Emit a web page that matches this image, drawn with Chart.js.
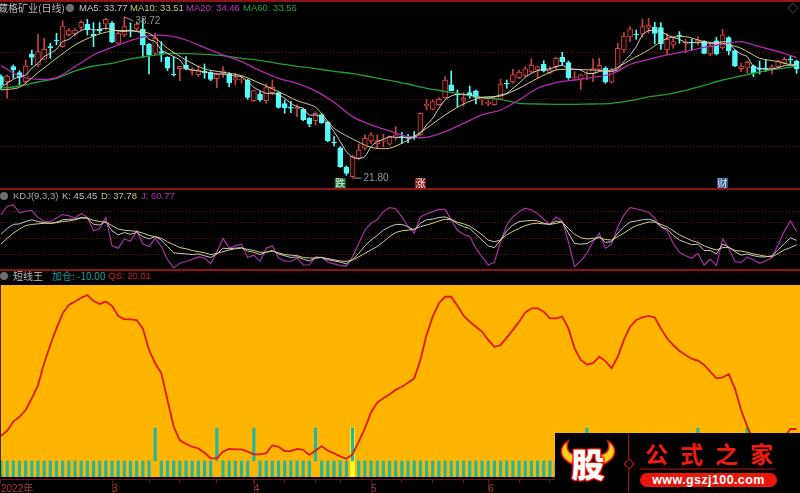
<!DOCTYPE html>
<html>
<head>
<meta charset="utf-8">
<title>藏格矿业(日线)</title>
<script src="https://cdn.jsdelivr.net/npm/chart.js@4/dist/chart.umd.min.js"></script>
<style>
html, body { margin: 0; padding: 0; background: #000; width: 800px; height: 493px; overflow: hidden; }
body { position: relative; font-family: "Liberation Sans", "Noto Sans CJK SC", sans-serif; font-size: 9.5px; }
canvas { position: absolute; left: 0; }
.hdr { position: absolute; white-space: nowrap; line-height: 12px; }
.cn { font-family: "Noto Sans CJK SC", sans-serif; font-size: 10px; }
.sep { position: absolute; left: 0; width: 800px; height: 1.5px; background: #8c1414; }
.dot { position: absolute; width: 8px; height: 8px; border-radius: 50%; background: #6e6e6e; }
#logo { position: absolute; left: 555px; top: 433px; width: 245px; height: 60px; background: #000; overflow: hidden; }
#logo div, #logo svg { position: absolute; }
</style>
</head>
<body>
<canvas id="priceChart" width="800" height="186" style="top:2px"></canvas>
<canvas id="kdjChart" width="800" height="78" style="top:190px"></canvas>
<canvas id="qsChart" width="800" height="208" style="top:285px"></canvas>

<div class="sep" style="top:0"></div>
<div class="sep" style="top:188px"></div>
<div class="sep" style="top:269px"></div>
<div style="position:absolute;left:0;top:477px;width:800px;height:2px;background:#000"></div>
<div class="sep" style="top:479px;height:1px;background:#7a1212"></div>
<div style="position:absolute;left:0;top:285px;width:1px;height:192px;background:#3a2a10"></div>

<div class="hdr cn" style="left:-2px;top:2px;color:#b8b8b8">藏格矿业(日线)</div>
<div class="dot" style="left:66px;top:4px"></div>
<div class="hdr" style="left:79px;top:2px;color:#c8c8c8">MA5: 33.77</div>
<div class="hdr" style="left:130px;top:2px;color:#c8c878">MA10: 33.51</div>
<div class="hdr" style="left:186px;top:2px;color:#c832c8">MA20: 34.46</div>
<div class="hdr" style="left:243px;top:2px;color:#22a83c">MA60: 33.56</div>
<div style="position:absolute;left:789px;top:4px;width:6px;height:6px;border:1px solid #333;transform:rotate(45deg)"></div>

<div class="dot" style="left:0;top:192px"></div>
<div class="hdr" style="left:13px;top:190px;color:#a8a8a8">KDJ(9,3,3)</div>
<div class="hdr" style="left:62px;top:190px;color:#c0c0c0">K: 45.45</div>
<div class="hdr" style="left:101px;top:190px;color:#c8c878">D: 37.78</div>
<div class="hdr" style="left:141px;top:190px;color:#b030b0">J: 60.77</div>

<div class="dot" style="left:0;top:272px"></div>
<div class="hdr cn" style="left:13px;top:270px;color:#b8b8b8">短线王</div>
<div class="hdr cn" style="left:52px;top:270px;color:#1f9c9c">加仓: -10.00</div>
<div class="hdr" style="left:108px;top:270px;color:#c02020">QS: 20.01</div>

<div id="logo">
  <svg style="left:0;top:0" width="72" height="60" viewBox="0 0 72 60">
    <path d="M13 8 C4 14 3 24 17 31 L20 22 C12 20 11 14 13 8 Z" fill="#ffd21e" stroke="#f01a10" stroke-width="1.5"/>
    <path d="M53 8 C62 14 63 24 49 31 L46 22 C54 20 55 14 53 8 Z" fill="#ffd21e" stroke="#f01a10" stroke-width="1.5"/>
  </svg>
  <div style="left:13px;top:9px;width:40px;text-align:center;font:900 33px/42px 'Noto Sans CJK SC',sans-serif;color:#fff;text-shadow:0 0 2px #f01a10,1px 1px 1px #f01a10,-1px -1px 1px #f01a10,1px -1px 1px #f01a10,-1px 1px 1px #f01a10">股</div>
  <div style="left:73px;top:2px;width:1px;height:57px;background:#a01810"></div>
  <div style="left:70px;top:27px;width:6px;height:6px;border:1px solid #c81c10;background:#000;transform:rotate(45deg)"></div>
  <div style="left:90px;top:5px;font:700 23px/30px 'Noto Sans CJK SC',sans-serif;letter-spacing:12px;color:#f01a10;white-space:nowrap">公式之家</div>
  <div style="left:85px;top:35px;width:135px;height:1.5px;background:#5a0c08"></div>
  <div style="left:85px;top:40px;width:137px;height:14px;border-radius:7px;background:#ea160c"></div>
  <div style="left:85px;top:40px;width:137px;text-align:center;font:700 12.5px/14px 'Liberation Sans',sans-serif;letter-spacing:0.4px;color:#fff;white-space:nowrap">www.gszj100.com</div>
</div>

<script>
// K线数据
const opens = [
  32.45,31.93,33.5,32.87,31.93,34.83,33.68,34.27,35.6,36.3,
  35.6,36.86,36.97,37.63,37.98,36.9,37.42,37.95,38.05,35.95,
  36.83,37.35,37.46,37.42,35.88,34.9,35.08,34.48,32.73,33.29,
  33.64,33.05,32.66,33.01,32.87,32.24,32.73,32.73,32.07,32.07,
  32.1,29.93,30.6,29.93,30.77,30.77,29.62,29.23,29.09,29.02,
  28.08,27.83,28.46,27.66,25.59,24.99,22.93,21.95,23.84,24.93,
  25.7,25.38,25.66,25.35,26.01,26.15,26.15,26.15,26.33,29.37,
  29.02,29.51,30.25,31.58,30.6,29.9,30.77,30.95,30,29.58,
  29.51,30.07,31.75,31.89,32.35,32.59,32.94,33.15,33.75,32.87,
  33.5,34.48,33.92,32.35,32.17,32.66,32.73,33.22,33.36,31.86,
  33.08,35.25,36.62,36.9,36.9,37.53,37.63,37.6,35.25,35.78,
  36.79,36.02,36.09,36.13,36.16,34.83,36.2,35.5,36.55,35.18,
  33.29,33.33,33.57,33.33,33.33,33.29,33.5,33.85,34.27,34.06
];
const closes = [
  31.58,32.52,33.15,32.38,33.57,34.48,35.08,35.32,35.5,36.2,
  37.77,37.28,37.35,38.16,37.35,36.72,37.28,38.47,36.13,37,
  37.7,37.25,37.98,35.78,34.73,36.48,34.9,33.33,32.63,33.54,
  33.26,33.26,33.15,32.84,32.17,32.7,33.05,31.82,32.35,32.17,
  30.28,30.98,30,31.3,31.33,29.23,29.2,29.13,29.23,27.9,
  27.48,28.6,27.62,25.73,25.52,23,22.3,24.12,24.75,25.98,
  26.33,25.73,25.8,26.08,26.33,26.01,26.01,26.08,28.6,29.55,
  29.83,30.07,32.1,30.98,30.53,30.18,30.42,30.28,30.07,29.76,
  30.14,31.68,31.68,32.66,32.94,33.26,33.64,33.5,33.05,33.15,
  34.38,34.03,32.35,32.42,32.63,32.73,33.29,33.64,31.86,33.08,
  35.43,36.72,37.46,36.83,37.7,37.84,37,35.88,36.37,36.13,
  36.72,36.13,36.02,36.27,34.9,35.67,34.83,36.83,35.18,33.57,
  33.57,33.96,32.87,33.22,33.22,33.5,34.1,34.27,34.2,33.26
];
const highs = [
  32.63,32.63,33.68,33.08,34.2,35.25,36.9,36.48,35.95,37,
  38.33,37.53,37.53,38.33,38.47,38.12,38.12,38.58,38.23,37.18,
  38.72,38.12,38.23,38.58,35.95,37,36.13,34.55,34.55,33.57,
  34.55,33.4,33.57,33.78,32.98,32.8,33.5,32.87,32.8,32.52,
  32.17,31.05,30.88,31.68,32.1,30.84,30,29.86,29.48,29.09,
  28.15,28.78,28.6,27.73,26.15,25.1,23.07,24.19,25.38,26.33,
  26.57,26.33,26.4,26.22,27.2,26.6,26.4,26.68,28.67,30.07,
  30,30.25,32.45,33.05,31.05,30.77,31.47,31.05,30.28,30,
  30.28,32.17,32.1,33.22,33.15,33.5,34.34,33.57,34.13,33.5,
  34.48,35.01,34.1,32.98,32.73,32.98,34.31,34.38,33.5,33.33,
  35.95,37.07,37.7,37.35,38.51,38.58,38.16,38.12,37,36.55,
  37.18,36.37,36.37,36.65,36.23,35.95,36.58,37.42,36.65,35.25,
  33.85,34.1,33.68,34.1,34.2,33.68,34.2,34.48,34.62,34.2
];
const lows = [
  31.12,30.18,32.28,31.58,31.75,33.68,33.5,34.2,34.38,35.78,
  35.53,36.72,36.72,37.35,36.83,35.6,37,37.35,36.02,35.88,
  36.65,36.65,37.18,34.48,32.73,34.73,34.03,33.08,32.52,32.03,
  33.15,32.63,32.45,32.28,32.03,31.3,32.38,31.4,31.58,31.75,
  30.07,29.86,29.86,29.65,30.53,29.13,28.6,28.67,28.25,27.83,
  27.2,27.38,27.55,25.63,25.17,22.93,22.09,21.8,23.7,24.75,
  25.45,24.93,25.1,25.24,25.8,25.45,25.52,25.87,26.26,28.95,
  28.95,29.44,30.18,30.98,29.3,29.37,30.18,29.58,29.48,29.37,
  29.44,30,31.23,31.75,32.24,32.45,32.87,32.28,32.94,32.73,
  33.22,33.68,32.17,32.1,31.12,32.1,31.93,33.08,31.75,31.75,
  32.98,34.97,36.13,36.37,36.58,37,35.88,35.32,34.73,35.43,
  35.95,34.97,35.18,35.78,34.83,34.66,34.73,35.32,34.73,33.5,
  32.98,32.8,32.45,32.73,32.98,32.73,33.43,33.78,33.78,32.8
];

// 均线
const ma5 = [
  31.33,31.75,32.17,32.45,32.63,33.33,33.85,34.55,34.9,35.32,
  36.13,36.37,36.9,37.28,37.53,37.35,37.42,37.53,37.42,37.25,
  37.18,37.28,37.18,37,36.37,36.13,35.25,34.9,34.55,34.2,
  33.33,33.15,33.05,32.94,32.87,32.73,32.73,32.63,32.52,32.45,
  31.93,31.33,30.98,30.7,30.7,30.53,30.18,29.65,29.3,29.13,
  28.43,28.43,28.18,27.55,26.68,25.63,24.58,23.98,23.88,24.05,
  25.1,25.63,25.87,26.15,26.08,26.08,26.01,26.08,26.5,27.38,
  28.08,29.13,30,30.42,30.6,30.6,30.53,30.35,30.25,30.18,
  30.35,30.53,30.7,31.23,31.75,32.38,32.8,33.08,33.22,33.26,
  33.5,33.64,33.33,33.22,33.15,32.8,32.8,32.98,33.05,32.98,
  33.26,34.03,34.73,35.6,36.83,37.28,37.28,37.18,36.83,36.58,
  36.37,36.02,36.02,36.02,36.02,35.95,35.95,36.13,36.02,35.25,
  34.83,34.55,33.5,33.33,33.26,33.26,33.4,33.61,33.68,33.77
];
// 以下三条每 3 根取一个点
const maStep = 3;
const ma10 = [
  31.05,31.33,32.87,34.38,35.78,36.72,37.25,37.28,37,35.43,
  34.2,33.26,32.91,32.56,31.75,30.88,29.93,29.23,27.03,25.91,
  25.03,24.93,25.8,27.03,28.43,29.58,30.28,30.42,31.23,32.28,
  33.15,33.22,33.15,33.15,34.2,35.25,36.48,36.65,36.13,35.95,
  35.43,34.38,34.03,33.51
];
const ma20 = [
  33.61,32.52,32.17,32.35,33.5,34.73,35.53,36.23,36.76,36.76,
  36.3,35.5,34.73,34.03,33.08,32.28,31.75,30.95,29.76,28.25,
  27.38,26.75,26.15,26.08,26.68,27.55,28.43,28.95,30,31.23,
  31.82,32.1,32.38,32.73,33.75,34.27,34.73,35.11,35.53,35.88,
  36.13,35.6,35.08,34.46
];
const ma60 = [
  31.23,31.47,31.89,32.28,33.05,33.57,33.85,34.31,34.62,34.87,
  34.87,34.8,34.66,34.38,34.17,33.82,33.54,33.29,33.01,32.77,
  32.42,32.07,31.68,31.23,30.91,30.56,30.28,30.07,29.65,29.58,
  29.55,29.55,29.58,29.65,29.93,30.32,30.6,31.02,31.54,32.1,
  32.52,32.94,33.26,33.56
];
const priceGrid = [35, 30.1, 25.17];

// KDJ
const kdjK = [
  56,66,73,74,78,81,78,76,75,77,81,82,82,85,84,73,72,78,62,55,
  59,56,59,52,48,52,46,35,24,23,22,21,22,19,16,22,32,31,32,33,
  27,25,21,25,28,22,19,16,17,13,10,15,16,12,10,8,5,12,23,36,
  46,54,63,69,73,73,69,63,75,81,82,85,86,82,74,69,66,56,46,36,
  33,46,62,72,78,79,80,79,75,73,79,77,58,40,39,40,46,52,42,43,
  58,69,77,79,81,82,79,69,65,54,46,42,38,39,28,28,22,39,34,26,
  20,22,19,17,17,19,29,40,50,45.45
];
const kdjD = [
  39,49,58,65,71,73,74,75,75,76,78,79,81,84,84,80,78,77,71,65,
  63,62,61,58,54,52,49,43,38,33,31,28,26,24,21,23,26,29,31,32,
  30,28,25,25,27,24,21,20,19,16,15,15,16,14,12,10,9,12,17,23,
  29,35,43,52,59,62,63,65,69,72,75,79,82,81,77,74,70,63,55,46,
  43,46,55,61,66,71,74,75,74,73,75,77,66,56,50,48,49,50,47,46,
  52,58,65,71,74,77,77,73,69,62,55,50,45,42,36,32,29,33,33,28,
  27,25,22,20,18,17,23,29,33,37.78
];
const kdjJ = [
  90,104,107,93,96,97,85,78,78,84,90,88,84,92,85,62,66,85,36,32,
  48,44,62,39,35,49,35,12,-2,6,9,13,17,15,5,26,49,32,36,39,
  16,20,9,32,36,15,10,9,15,3,3,17,16,8,5,2,1,17,40,63,
  75,81,95,102,100,86,69,58,86,91,95,99,99,81,63,56,52,32,17,3,
  8,43,72,86,95,101,98,92,82,73,86,79,43,0,10,23,43,58,32,39,
  69,89,102,100,97,94,84,69,62,40,25,19,15,23,3,13,2,48,32,9,
  7,17,12,6,10,16,38,61,79,60.77
];
const kdjGrid = [95, 77, 49, 21];

// 短线王 QS
const qs = [
  17.2,19.2,23.1,25.1,27.9,32.8,38.3,47.4,55,61.9,68.2,71.7,73.1,74.7,75.8,73.3,72.1,73.1,71.3,67.1,
  65.8,65.7,65.4,61.9,52.9,47.4,43.2,32.1,21,15.3,13.8,12.6,11.9,10.1,7.8,7.8,10.6,11.7,11.5,11.5,
  10.6,9.4,9.4,9.9,13.2,12.6,10.8,10.8,11.7,11.3,9.2,11,12.9,11,9.9,8.6,7.6,9.4,14.7,20.3,
  26.9,31,32.8,34.4,36.3,37.6,39.3,41.1,48.8,59.2,66.8,72.4,75.1,75.1,71.4,67.2,64.7,62.6,60.6,57.1,
  54.2,55,58.1,61.3,64.7,68.5,70.3,70.3,68.9,66.1,66.1,66.8,61.9,53.6,48.8,46.9,47.4,50.1,48.3,45.3,
  50.1,57.1,62.6,65.4,66.5,67.1,66.4,61.9,57.8,55,52.5,50.8,49.2,48.5,46.7,43.9,41.1,41.5,42.9,36.9,
  27.9,21,15.4,10.6,9.2,10.6,13.3,16.8,20,20.01
];
const tallBars = [25, 35, 41, 51, 57, 95, 113, 121];
const yellowBars = [57];
const shortTop = 6.7;
const tallTop = 20.4;

// 时间轴
const tickIndex = [0, 18, 24, 29, 35, 41, 46, 51, 55, 60, 65, 70, 75, 79, 84, 89];
const tickLabels = ['2022年', '3', '', '', '', '4', '', '', '', '5', '', '', '', '6', '', ''];
const monthIndex = [18, 41, 60, 79];

// 标记
const signalIndex = [55, 68, 117];
const signalText = ['跌', '涨', '财'];
const signalColor = ['#1c7a34', '#8c1c1c', '#2c5a96'];
const maxIndex = 20, minIndex = 57, maxPrice = 38.72, minPrice = 21.8;

const upColor = '#c8443c';
const downColor = '#54fcfc';
const gridColor = '#6e1212';
const indexes = closes.map((c, i) => i);

function sparse(arr) {
  return arr.map((v, k) => ({ x: k * maStep, y: v }));
}
function line(data, color, width) {
  return { type: 'line', data: data, borderColor: color, borderWidth: width, pointRadius: 0, tension: 0.25, order: 1 };
}
function series(arr) {
  return arr.map((v, i) => ({ x: i, y: v }));
}
function xAxis() {
  return { type: 'linear', min: -0.16, max: 129.55, display: false, offset: false, grid: { offset: false } };
}
function yAxis(min, max, gridVals) {
  return {
    min: min, max: max,
    ticks: { display: false },
    grid: { color: gridColor, drawTicks: false },
    border: { display: false, dash: [1, 2] },
    afterBuildTicks: s => { s.ticks = gridVals.map(v => ({ value: v })); }
  };
}
const baseOptions = {
  responsive: false,
  animation: false,
  layout: { padding: 0 },
  plugins: { legend: { display: false }, tooltip: { enabled: false } }
};

// 主图的文字标记
const priceMarks = {
  id: 'priceMarks',
  afterDraw(chart) {
    const c = chart.ctx, x = chart.scales.x, y = chart.scales.y;
    c.save();
    c.font = '10px "Liberation Sans"';
    c.fillStyle = '#999';
    c.strokeStyle = '#999';
    c.lineWidth = 1;
    c.textBaseline = 'middle';
    let px = x.getPixelForValue(maxIndex), py = y.getPixelForValue(maxPrice);
    c.beginPath(); c.moveTo(px, py); c.lineTo(px + 9, py + 4); c.stroke();
    c.fillText(maxPrice.toFixed(2), px + 11, py + 4);
    px = x.getPixelForValue(minIndex); py = y.getPixelForValue(minPrice);
    c.beginPath(); c.moveTo(px + 1, py); c.lineTo(px + 9, py); c.stroke();
    c.fillText(minPrice.toFixed(2), px + 11, py);
    c.font = '10px "Noto Sans CJK SC"';
    c.textAlign = 'center';
    signalIndex.forEach((idx, k) => {
      const sx = x.getPixelForValue(idx);
      c.fillStyle = signalColor[k];
      c.fillRect(sx - 5.5, chart.chartArea.bottom - 10, 11, 10);
      c.fillStyle = '#e8e8e8';
      c.fillText(signalText[k], sx, chart.chartArea.bottom - 5);
    });
    c.restore();
  }
};

new Chart(document.getElementById('priceChart'), {
  data: {
    datasets: [
      line(series(ma5), '#d8d8d8', 1),
      line(sparse(ma10), '#d0d080', 1),
      line(sparse(ma20), '#b428b4', 1.3),
      line(sparse(ma60), '#22a030', 1.3),
      {
        type: 'bar', grouped: false, barThickness: 5, order: 2, borderWidth: 1, borderSkipped: false,
        data: indexes.map(i => ({ x: i, y: [opens[i], closes[i]] })),
        backgroundColor: indexes.map(i => closes[i] >= opens[i] ? '#200808' : downColor),
        borderColor: indexes.map(i => closes[i] >= opens[i] ? upColor : downColor)
      },
      {
        type: 'bar', grouped: false, barThickness: 1, order: 3,
        data: indexes.map(i => ({ x: i, y: [lows[i], highs[i]] })),
        backgroundColor: indexes.map(i => closes[i] >= opens[i] ? upColor : downColor)
      }
    ]
  },
  options: { ...baseOptions, scales: { x: xAxis(), y: yAxis(20.76, 40.29, priceGrid) } },
  plugins: [priceMarks]
});

new Chart(document.getElementById('kdjChart'), {
  type: 'line',
  data: {
    datasets: [
      { data: series(kdjK), borderColor: '#c8c8c8', borderWidth: 1, pointRadius: 0, order: 2 },
      { data: series(kdjD), borderColor: '#d0d080', borderWidth: 1, pointRadius: 0, order: 1 },
      { data: series(kdjJ), borderColor: '#a830a8', borderWidth: 1.2, pointRadius: 0, order: 3 }
    ]
  },
  options: { ...baseOptions, scales: { x: xAxis(), y: yAxis(-2.2, 132.4, kdjGrid) } }
});

// 橙色底
const orangeFill = {
  id: 'orangeFill',
  beforeDraw(chart) {
    const a = chart.chartArea;
    chart.ctx.fillStyle = '#ffb400';
    chart.ctx.fillRect(a.left, a.top, a.right - a.left, a.bottom - a.top);
  },
  afterDraw(chart) {
    const c = chart.ctx;
    c.save();
    c.strokeStyle = '#5a1414';
    monthIndex.forEach(idx => {
      const px = Math.round(chart.scales.x.getPixelForValue(idx)) + 0.5;
      c.beginPath(); c.moveTo(px, chart.chartArea.bottom); c.lineTo(px, chart.height); c.stroke();
    });
    c.restore();
  }
};

const teal = '#22b79f';
const qsAxis = xAxis();
qsAxis.display = true;
qsAxis.grid = { drawOnChartArea: false, color: '#7a1212', tickLength: 6, offset: false };
qsAxis.border = { display: false };
qsAxis.ticks = {
  autoSkip: false, maxRotation: 0, align: 'start', padding: 0,
  color: '#b03a3a', font: { size: 10, family: '"Liberation Sans","Noto Sans CJK SC"' },
  callback: (v, k) => tickLabels[k]
};
qsAxis.afterBuildTicks = s => { s.ticks = tickIndex.map(v => ({ value: v })); };
qsAxis.afterFit = s => { s.height = 16; };

new Chart(document.getElementById('qsChart'), {
  data: {
    datasets: [
      { type: 'line', data: series(qs), borderColor: '#e01810', borderWidth: 1.8, pointRadius: 0, order: 1 },
      {
        type: 'bar', grouped: false, barThickness: 2.5, backgroundColor: teal, order: 2,
        data: indexes.filter(i => !tallBars.includes(i)).map(i => ({ x: i, y: [0, shortTop] }))
      },
      {
        type: 'bar', grouped: false, barThickness: 2.5, backgroundColor: teal, order: 2,
        data: tallBars.map(i => ({ x: i, y: [shortTop, tallTop] }))
      },
      {
        type: 'bar', grouped: false, barThickness: 4, backgroundColor: '#ffff20', order: 3,
        data: yellowBars.map(i => ({ x: i, y: [0, tallTop] }))
      }
    ]
  },
  options: {
    ...baseOptions,
    scales: {
      x: qsAxis,
      y: { min: 0, max: 80, display: false }
    }
  },
  plugins: [orangeFill]
});
</script>
</body>
</html>
